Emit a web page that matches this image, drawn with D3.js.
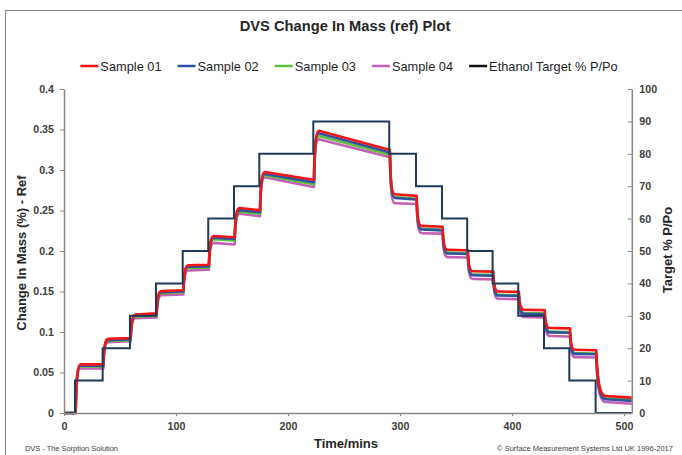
<!DOCTYPE html>
<html>
<head>
<meta charset="utf-8">
<script src="https://cdn.jsdelivr.net/npm/d3@7"></script>
<style>
  body { margin: 0; background: #fff; }
  svg { display: block; font-family: "Liberation Sans", Arial, sans-serif; }
</style>
</head>
<body>
<div id="chart"></div>
<script>
const width = 682,
    height = 455;
const plot = {left: 64, right: 631.8, top: 89, bottom: 413};

// Step start times (mins) and the ethanol target for each step
const stepTimes = [0, 9.8, 34.5, 58.9, 82.1, 106, 128.8, 151.8, 174.4, 222.6,
    290.4, 314.3, 337.5, 360, 382.7, 405.6, 428.6, 451.2, 474.7];
const endTime = 507;
const targetPP = [0, 10, 20, 30, 40, 50, 60, 70, 80, 90, 80, 70, 60, 50, 40, 30, 20, 10, 0];

// Change in mass at the start and at the end of each step, per sample
const s01Start = [0, 0.0600, 0.0915, 0.1215, 0.1505, 0.1825, 0.2185, 0.2530, 0.2975, 0.3485,
    0.2700, 0.2310, 0.2015, 0.1750, 0.1500, 0.1275, 0.1050, 0.0780, 0.0210];
const s01End = [0, 0.0600, 0.0925, 0.1230, 0.1515, 0.1830, 0.2170, 0.2505, 0.2880, 0.3250,
    0.2680, 0.2300, 0.2010, 0.1745, 0.1495, 0.1270, 0.1045, 0.0775, 0.0190];
const s02Start = [0, 0.0585, 0.0900, 0.1200, 0.1490, 0.1805, 0.2165, 0.2505, 0.2950, 0.3455,
    0.2655, 0.2265, 0.1970, 0.1700, 0.1450, 0.1225, 0.0995, 0.0730, 0.0170];
const s02End = [0, 0.0585, 0.0910, 0.1215, 0.1500, 0.1810, 0.2150, 0.2480, 0.2850, 0.3220,
    0.2635, 0.2255, 0.1965, 0.1695, 0.1445, 0.1220, 0.0990, 0.0725, 0.0150];
const s03Start = [0, 0.0575, 0.0890, 0.1190, 0.1480, 0.1790, 0.2145, 0.2485, 0.2935, 0.3420,
    0.2665, 0.2275, 0.1980, 0.1710, 0.1460, 0.1235, 0.1005, 0.0740, 0.0180];
const s03End = [0, 0.0575, 0.0900, 0.1200, 0.1490, 0.1795, 0.2130, 0.2460, 0.2825, 0.3190,
    0.2645, 0.2265, 0.1975, 0.1705, 0.1455, 0.1230, 0.1000, 0.0735, 0.0165];
const s04Start = [0, 0.0550, 0.0875, 0.1170, 0.1455, 0.1760, 0.2100, 0.2460, 0.2910, 0.3380,
    0.2590, 0.2220, 0.1925, 0.1655, 0.1410, 0.1185, 0.0950, 0.0690, 0.0135];
const s04End = [0, 0.0550, 0.0885, 0.1180, 0.1465, 0.1770, 0.2080, 0.2430, 0.2790, 0.3160,
    0.2580, 0.2215, 0.1920, 0.1650, 0.1405, 0.1180, 0.0945, 0.0685, 0.0115];

const massTicks = [0, 0.05, 0.1, 0.15, 0.2, 0.25, 0.3, 0.35, 0.4];
const ppTicks = [0, 10, 20, 30, 40, 50, 60, 70, 80, 90, 100];
const timeTicks = [0, 100, 200, 300, 400, 500];

const samples = [
    {name: "Sample 01", color: "#f21616", start: s01Start, end: s01End},
    {name: "Sample 02", color: "#2f52a3", start: s02Start, end: s02End},
    {name: "Sample 03", color: "#5fc03e", start: s03Start, end: s03End},
    {name: "Sample 04", color: "#c560b6", start: s04Start, end: s04End}
];
const targetColor = "#1f3a5a";

const svg = d3.select("#chart").append("svg")
    .attr("width", width)
    .attr("height", height);

// chart frame (runs off the right / bottom of the picture)
svg.append("rect")
    .attr("x", 5.5).attr("y", 10.5)
    .attr("width", 800).attr("height", 600)
    .attr("fill", "none")
    .attr("stroke", "#8a8a8a")
    .attr("stroke-width", 1.2);

// Scales
let x = d3.scaleLinear().domain([0, endTime]).range([plot.left, plot.right]);
let yMass = d3.scaleLinear().domain([0, 0.4]).range([plot.bottom, plot.top]);
let yPP = d3.scaleLinear().domain([0, 100]).range([plot.bottom, plot.top]);

// path for one sample: a quick rounded response at each step, then a straight drift
function massPath(s) {
    let p = d3.path();
    p.moveTo(x(0), yMass(s.start[0]));
    stepTimes.forEach((t, i) => {
        let next = i + 1 < stepTimes.length ? stepTimes[i + 1] : endTime;
        if (i > 0) {
            let dur = i === stepTimes.length - 1 ? 9 : 5;
            let x0 = x(t + 0.6), y0 = yMass(s.end[i - 1]);
            let x1 = x(t + dur), y1 = yMass(s.start[i]);
            p.lineTo(x0, y0);
            p.bezierCurveTo(x0 + (x1 - x0) * 0.12, y0 + (y1 - y0) * 0.75,
                x0 + (x1 - x0) * 0.4, y1, x1, y1);
        }
        p.lineTo(x(next), yMass(s.end[i]));
    });
    return p.toString();
}

let gLines = svg.append("g");
samples.slice().reverse().forEach(s => {
    gLines.append("path")
        .attr("d", massPath(s))
        .attr("fill", "none")
        .attr("stroke", s.color)
        .attr("stroke-width", 2.6)
        .attr("stroke-linejoin", "round");
});

// Ethanol target staircase (secondary axis)
let targetPts = stepTimes.map((t, i) => [t, targetPP[i]]);
targetPts.push([endTime - 0.1, targetPP[targetPP.length - 1]]);
gLines.append("path")
    .attr("d", d3.line().x(d => x(d[0])).y(d => yPP(d[1])).curve(d3.curveStepAfter)(targetPts))
    .attr("fill", "none")
    .attr("stroke", targetColor)
    .attr("stroke-width", 2);

// Axes
const axisColor = "#878787";

function styleAxis(g) {
    g.select(".domain").attr("stroke", axisColor).attr("stroke-width", 1.5);
    g.selectAll(".tick line").attr("stroke", axisColor).attr("stroke-width", 1);
    g.selectAll(".tick text")
        .attr("fill", "#404040")
        .style("font-size", "10.7px")
        .style("font-weight", "bold")
        .style("font-family", "'Liberation Sans', Arial, sans-serif");
}

svg.append("g")
    .attr("transform", `translate(${plot.left},0)`)
    .call(d3.axisLeft(yMass).tickValues(massTicks).tickFormat(d => String(d))
        .tickSizeInner(4).tickSizeOuter(0).tickPadding(6))
    .call(styleAxis);

svg.append("g")
    .attr("transform", `translate(${plot.right},0)`)
    .call(d3.axisRight(yPP).tickValues(ppTicks)
        .tickSizeInner(-4).tickSizeOuter(0).tickPadding(7.5))
    .call(styleAxis);

svg.append("g")
    .attr("transform", `translate(0,${plot.bottom})`)
    .call(d3.axisBottom(x).tickValues(timeTicks)
        .tickSizeInner(3).tickSizeOuter(0).tickPadding(6.5))
    .call(styleAxis);

// Titles
svg.append("text")
    .attr("x", 345).attr("y", 31)
    .attr("text-anchor", "middle")
    .attr("fill", "#262626")
    .style("font-size", "14.7px")
    .style("font-weight", "bold")
    .text("DVS Change In Mass (ref) Plot");

svg.append("text")
    .attr("transform", "translate(26,253) rotate(-90)")
    .attr("text-anchor", "middle")
    .attr("fill", "#262626")
    .style("font-size", "13px")
    .style("font-weight", "bold")
    .text("Change In Mass (%) - Ref");

svg.append("text")
    .attr("transform", "translate(672,250) rotate(-90)")
    .attr("text-anchor", "middle")
    .attr("fill", "#262626")
    .style("font-size", "13px")
    .style("font-weight", "bold")
    .text("Target % P/Po");

svg.append("text")
    .attr("x", 346).attr("y", 448)
    .attr("text-anchor", "middle")
    .attr("fill", "#262626")
    .style("font-size", "13px")
    .style("font-weight", "bold")
    .text("Time/mins");

// Legend
const legendItems = samples.map(s => ({name: s.name, color: s.color}))
    .concat([{name: "Ethanol Target % P/Po", color: "#111"}]);
let legend = svg.append("g");
let lx = 0;
legendItems.forEach(d => {
    let item = legend.append("g").attr("transform", `translate(${lx},0)`);
    item.append("line")
        .attr("x1", 0).attr("x2", 18)
        .attr("y1", 66).attr("y2", 66)
        .attr("stroke", d.color)
        .attr("stroke-width", 2.5);
    let t = item.append("text")
        .attr("x", 20).attr("y", 70.5)
        .attr("fill", "#262626")
        .style("font-size", "12.8px")
        .text(d.name);
    lx += 20 + t.node().getComputedTextLength() + 16;
});
lx -= 16;
legend.attr("transform", `translate(${349 - lx / 2},0)`);

// Footers
svg.append("text")
    .attr("x", 25).attr("y", 451)
    .attr("fill", "#404040")
    .attr("textLength", 93)
    .attr("lengthAdjust", "spacingAndGlyphs")
    .style("font-size", "7.6px")
    .style("font-family", "'Liberation Sans', sans-serif")
    .text("DVS - The Sorption Solution");

svg.append("text")
    .attr("x", 673).attr("y", 451)
    .attr("text-anchor", "end")
    .attr("fill", "#404040")
    .attr("textLength", 176)
    .attr("lengthAdjust", "spacingAndGlyphs")
    .style("font-size", "7.6px")
    .style("font-family", "'Liberation Sans', sans-serif")
    .text("© Surface Measurement Systems Ltd UK 1996-2017");
</script>
</body>
</html>
